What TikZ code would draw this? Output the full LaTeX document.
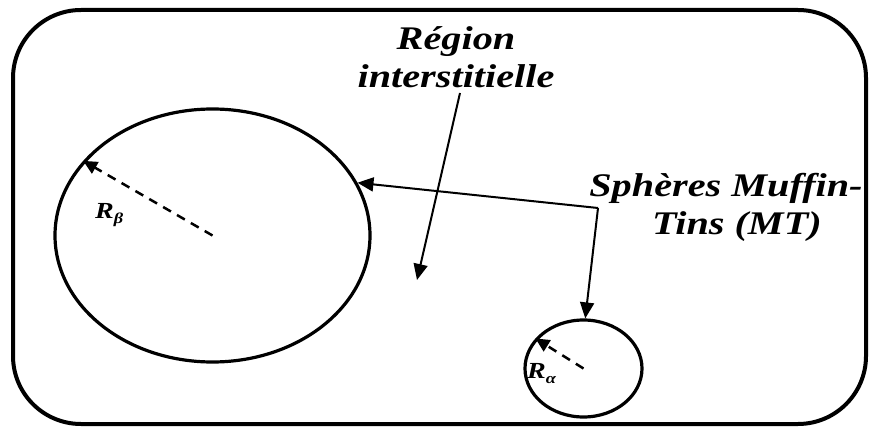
\documentclass[tikz,border=0pt]{standalone}
\usepackage{fontspec}
\setmainfont{Liberation Serif}
\newfontface\lblfont[FakeStretch=1.22]{Liberation Serif Bold Italic}
\usetikzlibrary{arrows.meta,shapes.geometric}
\begin{document}
\begin{tikzpicture}[x=1pt,y=-1pt,
  lbl/.style={font=\lblfont\fontsize{33}{38}\selectfont, inner sep=0pt},
  rlbl/.style={font=\lblfont\fontsize{23}{24}\selectfont, inner sep=0pt},
  conn/.style={line width=2pt, -{Triangle[length=16pt,width=14pt]}},
  rad/.style={line width=2.5pt, dash pattern=on 9pt off 7pt, -{Triangle[length=14pt,width=13pt]}},
  sphere/.style={ellipse, draw, line width=3.2pt, inner sep=0pt},
  frame/.style={draw, line width=4pt, rounded corners=68pt}]
\useasboundingbox (0,0) rectangle (869,427);
\draw[frame] (13,10) rectangle (866,424);
\node[sphere, minimum width=315pt, minimum height=253pt] (big) at (212.5,235.5) {};
\node[sphere, minimum width=117pt, minimum height=97pt] (small) at (583.5,368.5) {};
\node[lbl, anchor=base] (reg) at (456,50) {Région};
\node[lbl, anchor=base] (int) at (456,88) {interstitielle};
\node[lbl, anchor=base] (sph) at (726,197) {Sphères Muffin-};
\node[lbl, anchor=base] (tins) at (737,235) {Tins (MT)};
\node[rlbl, anchor=base west] (rb) at (95,219) {R\raisebox{-5pt}{\fontsize{15}{15}\selectfont β}};
\node[rlbl, anchor=base west] (ra) at (527,378) {R\raisebox{-5pt}{\fontsize{15}{15}\selectfont α}};
\coordinate (regs) at (460,93);
\coordinate (rege) at (417,280);
\coordinate (mt) at (598,208);
\draw[conn] (regs) -- (rege);
\draw[conn] (mt) -- (big.20);
\draw[conn] (mt) -- (small.88);
\draw[rad] (big.center) -- (big.150);
\draw[rad] (small.center) -- (small.148);
\end{tikzpicture}
\end{document}
